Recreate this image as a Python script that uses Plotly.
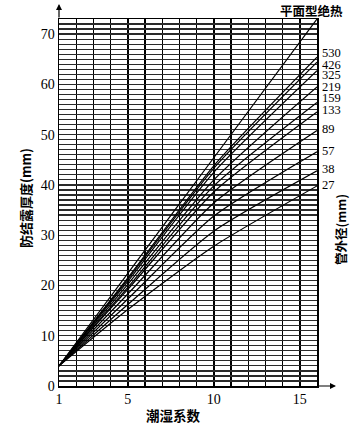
import plotly.graph_objects as go

# Moisture coefficient sample points
x_vals = [1, 5, 10, 16]

# Series names (pipe outer diameter, mm) and thickness values (mm)
series_names = ["平面型绝热", "530", "426", "325", "219", "159", "133", "89", "57", "38", "27"]
flat = [4, 22.4, 45.4, 73.0]
d530 = [4, 21.5, 43.8, 65.4]
d426 = [4, 21.2, 43.3, 64.4]
d325 = [4, 20.8, 42.5, 62.7]
d219 = [4, 20.2, 41.0, 59.5]
d159 = [4, 19.6, 39.8, 56.4]
d133 = [4, 19.2, 38.6, 54.5]
d89 = [4, 18.3, 36.4, 50.8]
d57 = [4, 17.3, 33.8, 46.6]
d38 = [4, 16.2, 30.8, 42.8]
d27 = [4, 15.2, 27.8, 39.8]
series_values = [flat, d530, d426, d325, d219, d159, d133, d89, d57, d38, d27]

# Right-side diameter labels and their vertical positions (data units)
label_texts = ["530", "426", "325", "219", "159", "133", "89", "57", "38", "27"]
label_y = [66.3, 63.8, 61.8, 59.4, 57.2, 54.9, 51.1, 46.8, 43.1, 40.0]

# Tick labels
x_label_ticks = [1, 5, 10, 15]
y_label_ticks = [0, 10, 20, 30, 40, 50, 60, 70]
x_grid = list(range(1, 17))
y_grid = list(range(0, 74))

SERIF = "Liberation Serif, Times New Roman, serif"
CJK = "Noto Sans CJK SC"

W, H = 362, 429
ml, mr, mt, mb = 59, 45, 19, 43
pw, ph = W - ml - mr, H - mt - mb


def px2paper(px, py):
    return (px - ml) / pw, (H - mb - py) / ph


fig = go.Figure()
for name, vals in zip(series_names, series_values):
    fig.add_trace(go.Scatter(x=x_vals, y=vals, mode="lines", name=name,
                             line=dict(color="black", width=1.2, shape="spline", smoothing=0.6),
                             showlegend=False, hoverinfo="skip"))

for t, yv in zip(label_texts, label_y):
    fig.add_annotation(x=16, y=yv, xref="x", yref="y", text=t, showarrow=False,
                       xanchor="left", xshift=3, yanchor="middle",
                       font=dict(family=SERIF, size=12.5, color="black"))

tx, ty = px2paper(311, 11)
fig.add_annotation(x=tx, y=ty, xref="paper", yref="paper", text="<b>平面型绝热</b>",
                   showarrow=False, xanchor="center", yanchor="middle",
                   font=dict(family=CJK, size=12.5, color="black"))

# right vertical title
rx, ry = px2paper(341, 230)
fig.add_annotation(x=rx, y=ry, xref="paper", yref="paper", text="<b>管外径(mm)</b>",
                   textangle=-90, showarrow=False, xanchor="center", yanchor="middle",
                   font=dict(family=CJK, size=12.5, color="black"))

# axis titles
lx, ly = px2paper(25, 198)
fig.add_annotation(x=lx, y=ly, xref="paper", yref="paper", text="<b>防结露厚度(mm)</b>",
                   textangle=-90, showarrow=False, xanchor="center", yanchor="middle",
                   font=dict(family=CJK, size=13, color="black"))
bx, by = px2paper(173, 415)
fig.add_annotation(x=bx, y=by, xref="paper", yref="paper", text="<b>潮湿系数</b>",
                   showarrow=False, xanchor="center", yanchor="middle",
                   font=dict(family=CJK, size=13.5, color="black"))

# axis arrows
x0p, y0p = px2paper(59, 386)
xa, _ = px2paper(336, 386)
fig.add_annotation(x=xa, y=y0p, ax=-19, ay=0, xref="paper", yref="paper",
                   axref="pixel", ayref="pixel", showarrow=True, arrowhead=2,
                   arrowsize=1, arrowwidth=1.2, arrowcolor="black", text="")
_, ya = px2paper(59, 4)
fig.add_annotation(x=x0p, y=ya, ax=0, ay=15, xref="paper", yref="paper",
                   axref="pixel", ayref="pixel", showarrow=True, arrowhead=2,
                   arrowsize=1, arrowwidth=1.2, arrowcolor="black", text="")

fig.update_xaxes(range=[1, 16], tickmode="array", tickvals=x_grid,
                 ticktext=[str(v) if v in x_label_ticks else "" for v in x_grid],
                 showgrid=True, gridcolor="black", gridwidth=1.4,
                 showline=True, linecolor="black", linewidth=1.5, mirror=True,
                 ticks="", zeroline=False, automargin=False,
                 tickfont=dict(family=SERIF, size=14, color="black"))
fig.update_yaxes(range=[0, 73], tickmode="array", tickvals=y_grid,
                 ticktext=[str(v) if v in y_label_ticks else "" for v in y_grid],
                 showgrid=True, gridcolor="#2a2a2a", gridwidth=1.2,
                 showline=True, linecolor="black", linewidth=1.5, mirror=True,
                 ticks="", zeroline=False, automargin=False,
                 tickfont=dict(family=SERIF, size=14, color="black"))

fig.update_layout(width=W, height=H, margin=dict(l=ml, r=mr, t=mt, b=mb, autoexpand=False),
                  plot_bgcolor="white", paper_bgcolor="white", hovermode=False)

fig.write_html("out.html", config={"displayModeBar": False, "staticPlot": True},
               post_script="document.body.style.margin='0px';document.body.style.overflow='hidden';")
